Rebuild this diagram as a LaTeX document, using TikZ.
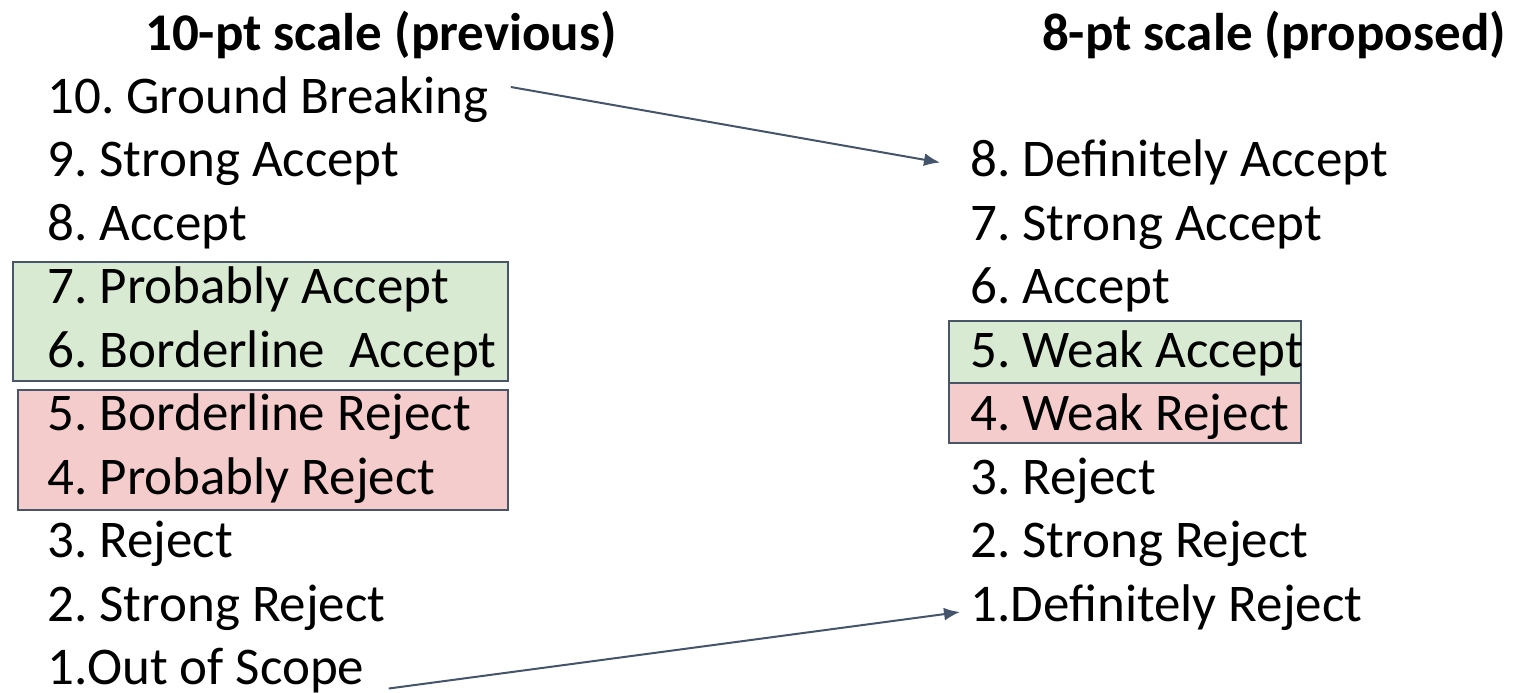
\documentclass[tikz,border=0pt]{standalone}
\usepackage{fontspec}
\setmainfont{Carlito}
\usetikzlibrary{arrows.meta}
\definecolor{acceptfill}{HTML}{D9EAD3}
\definecolor{rejectfill}{HTML}{F4CCCC}
\definecolor{boxline}{HTML}{4A5568}
\definecolor{arrowline}{HTML}{44546A}
\newcommand{\rowfont}{\fontsize{26.5}{32}\selectfont\frenchspacing}

\begin{document}
\begin{tikzpicture}[x=0.5pt, y=-0.5pt,
    item/.style={anchor=base west, inner sep=0pt, font=\rowfont},
    heading/.style={anchor=base, inner sep=0pt, font=\rowfont\bfseries},
    band/.style={draw=boxline, line width=1pt},
    moveto/.style={-{Latex[length=8pt, width=6.5pt]}, draw=arrowline, line width=1pt}]
    \useasboundingbox (0,0) rectangle (1514,692);

    % coloured bands behind the rows
    \draw[band, fill=acceptfill] (13,262) rectangle (508,381);
    \draw[band, fill=rejectfill] (18,390) rectangle (508,510);
    \draw[band, fill=acceptfill] (949,321) rectangle (1301,383);
    \draw[band, fill=rejectfill] (949,383) rectangle (1301,443);

    \node[heading] (oldtitle) at (381,50) {10-pt scale (previous)};
    \node[heading] (newtitle) at (1274,50) {8-pt scale (proposed)};

    % previous scale
    \foreach \i/\txt in {10/{10. Ground Breaking}, 9/{9. Strong Accept}, 8/{8. Accept},
                         7/{7. Probably Accept}, 6/{6. Borderline\ \ Accept},
                         5/{5. Borderline Reject}, 4/{4. Probably Reject}, 3/{3. Reject},
                         2/{2. Strong Reject}, 1/{1.Out of Scope}}
        \node[item] (l\i) at (47,{113+63.5*(10-\i)}) {\txt};

    % proposed scale
    \foreach \i/\txt in {8/{8. Definitely Accept}, 7/{7. Strong Accept}, 6/{6. Accept},
                         5/{5. Weak Accept}, 4/{4. Weak Reject}, 3/{3. Reject},
                         2/{2. Strong Reject}, 1/{1.Definitely Reject}}
        \node[item] (r\i) at (970,{176.5+63.5*(8-\i)}) {\txt};

    \draw[moveto] ([xshift=11pt, yshift=13pt]l10.base east) -- ([xshift=-15pt, yshift=7pt]r8.base west);
    \draw[moveto] ([xshift=12pt, yshift=-2pt]l1.base east) -- ([xshift=-5pt, yshift=4.5pt]r1.base west);
\end{tikzpicture}
\end{document}
